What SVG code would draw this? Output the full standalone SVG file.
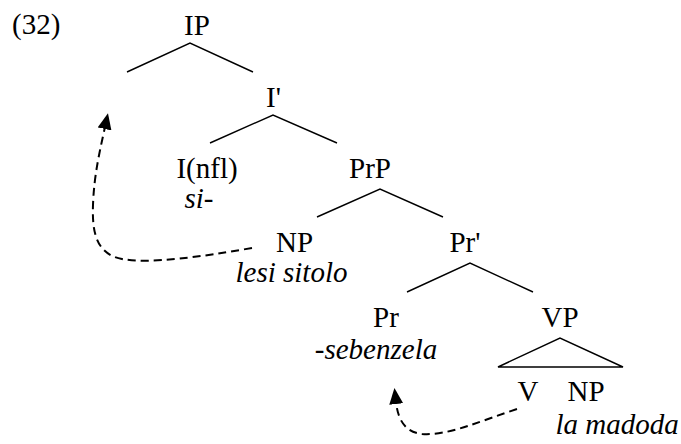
<svg xmlns="http://www.w3.org/2000/svg" width="681" height="444" viewBox="0 0 681 444">
<style>
text{font-family:"Liberation Serif","Times New Roman",serif;font-size:29px;fill:#000}
.n{text-anchor:middle}
.i{font-style:italic;text-anchor:middle}
.br{fill:none;stroke:#000;stroke-width:1.4}
.mv{fill:none;stroke:#000;stroke-width:2;stroke-dasharray:8 5}
</style>
<defs>
<marker id="ah" viewBox="0 0 16 14" refX="2" refY="7" markerWidth="16" markerHeight="14" markerUnits="userSpaceOnUse" orient="auto">
<path d="M0,0 L16,7 L0,14 z" fill="#000"/>
</marker>
</defs>
<rect width="681" height="444" fill="#fff"/>
<text x="12" y="34">(32)</text>
<g id="n-IP"><text class="n" x="197" y="35">IP</text></g>
<g id="n-Ibar"><text class="n" x="273.5" y="107">I'</text></g>
<g id="n-Infl"><text class="n" x="207" y="178">I(nfl)</text><text class="i" x="199" y="208">si-</text></g>
<g id="n-PrP"><text class="n" x="370" y="178">PrP</text></g>
<g id="n-NP1"><text class="n" x="294.5" y="252">NP</text><text class="i" x="291.5" y="282">lesi sitolo</text></g>
<g id="n-Prbar"><text class="n" x="465" y="252">Pr'</text></g>
<g id="n-Pr"><text class="n" x="386" y="327">Pr</text><text class="i" x="376" y="359">-sebenzela</text></g>
<g id="n-VP"><text class="n" x="560" y="327">VP</text></g>
<g id="n-V"><text class="n" x="528" y="401">V</text></g>
<g id="n-NP2"><text class="n" x="586" y="401">NP</text><text class="i" x="617" y="434">la madoda</text></g>
<g id="connectors">
<polyline class="br" points="127,72 190,43 253,72"/>
<polyline class="br" points="210,143 273,115 337,143"/>
<polyline class="br" points="317,217 380,189 443,217"/>
<polyline class="br" points="407,292 470,263 533,292"/>
<polygon class="br" points="498,367 560,338 623,367"/>
<path class="mv" d="M252,248 C200,257 150,264 122,259 C96,254 92,232 93,205 C94,175 100,150 105,127" marker-end="url(#ah)"/>
<path class="mv" d="M517,409 C480,421 448,436 422,434 C405,432 398,420 396,402" marker-end="url(#ah)"/>
</g>
</svg>
